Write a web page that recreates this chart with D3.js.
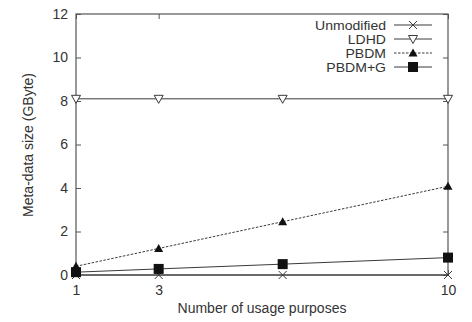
<!DOCTYPE html>
<html><head><meta charset="utf-8">
<script src="https://cdn.jsdelivr.net/npm/d3@7"></script>
<style>
body{margin:0;background:#fff;}
text{font-family:"Liberation Sans",Arial,Helvetica,sans-serif;fill:#333;}
</style></head>
<body><svg id="c" width="472" height="322"></svg>
<script>
const xValues = [1, 3, 6, 10];
const xTicks = [1, 3, 10];
const yTicks = [0, 2, 4, 6, 8, 10, 12];
const unmodified = [0, 0, 0, 0];
const ldhd = [8.1, 8.1, 8.1, 8.1];
const pbdm = [0.4, 1.22, 2.45, 4.08];
const pbdmG = [0.13, 0.28, 0.5, 0.8];
const seriesNames = ["Unmodified", "LDHD", "PBDM", "PBDM+G"];

const svg = d3.select("#c");
const L = 76, R = 448, T = 14, B = 275;
const x = d3.scaleLinear().domain([1, 10]).range([L, R]);
const y = d3.scaleLinear().domain([0, 12]).range([B, T]);
const axisColor = "#555";
const lineColor = "#3a3a3a";
const font = '"Liberation Sans",Arial,sans-serif';

svg.append("rect").attr("x", L).attr("y", T).attr("width", R - L).attr("height", B - T)
  .attr("fill", "none").attr("stroke", axisColor).attr("stroke-width", 1.2);

const yAxisL = d3.axisLeft(y).tickValues(yTicks).tickSizeInner(-5).tickSizeOuter(0).tickPadding(8);
const gy = svg.append("g").attr("transform", `translate(${L},0)`).call(yAxisL);
const yAxisR = d3.axisRight(y).tickValues(yTicks).tickSizeInner(-5).tickSizeOuter(0).tickFormat("");
const gyr = svg.append("g").attr("transform", `translate(${R},0)`).call(yAxisR);
const xAxisB = d3.axisBottom(x).tickValues(xTicks).tickSizeInner(-5).tickSizeOuter(0).tickPadding(10);
const gx = svg.append("g").attr("transform", `translate(0,${B})`).call(xAxisB);
const xAxisT = d3.axisTop(x).tickValues(xTicks).tickSizeInner(-5).tickSizeOuter(0).tickFormat("");
const gxt = svg.append("g").attr("transform", `translate(0,${T})`).call(xAxisT);
[gy, gyr, gx, gxt].forEach(g => {
  g.select(".domain").remove();
  g.selectAll("line").attr("stroke", axisColor);
  g.selectAll("text").attr("font-size", 14).attr("fill", "#333").style("font-family", font);
});

svg.append("text").attr("x", 262).attr("y", 313).attr("text-anchor", "middle").attr("font-size", 14).text("Number of usage purposes");
svg.append("text").attr("transform", "translate(33,145) rotate(-90)").attr("text-anchor", "middle").attr("font-size", 14).text("Meta-data size (GByte)");

const data = [unmodified, ldhd, pbdm, pbdmG];
const dashes = [null, null, "2.5,1.5", null];
const line = d3.line().x((d, i) => x(xValues[i])).y(d => y(d));

function marker(g, type, cx, cy) {
  if (type === 0) {
    const s = 4;
    g.append("path").attr("d", `M${cx-s},${cy-s}L${cx+s},${cy+s}M${cx-s},${cy+s}L${cx+s},${cy-s}`)
      .attr("stroke", lineColor).attr("stroke-width", 1).attr("fill", "none");
  } else if (type === 1) {
    const s = 4.5;
    g.append("path").attr("d", `M${cx-s},${cy-s+1}L${cx+s},${cy-s+1}L${cx},${cy+s}Z`)
      .attr("stroke", lineColor).attr("stroke-width", 1).attr("fill", "#fff");
  } else if (type === 2) {
    const s = 4.5;
    g.append("path").attr("d", `M${cx-s},${cy+s-1}L${cx+s},${cy+s-1}L${cx},${cy-s}Z`)
      .attr("fill", "#111");
  } else {
    const s = 5;
    g.append("rect").attr("x", cx - s).attr("y", cy - s).attr("width", 2 * s).attr("height", 2 * s).attr("fill", "#111");
  }
}

data.forEach((vals, k) => {
  const g = svg.append("g");
  g.append("path").datum(vals).attr("d", line).attr("fill", "none")
    .attr("stroke", lineColor).attr("stroke-width", 1)
    .attr("stroke-dasharray", dashes[k]);
  vals.forEach((v, i) => marker(g, k, x(xValues[i]), y(v)));
});

const legY = [25, 39, 53, 67];
seriesNames.forEach((name, k) => {
  const g = svg.append("g");
  g.append("text").attr("transform", `translate(386,${legY[k] + 4.5}) scale(1.17,1)`)
    .attr("text-anchor", "end").attr("font-size", 12).text(name);
  g.append("line").attr("x1", 394).attr("x2", 432).attr("y1", legY[k]).attr("y2", legY[k])
    .attr("stroke", lineColor).attr("stroke-width", 1).attr("stroke-dasharray", dashes[k]);
  marker(g, k, 413, legY[k]);
});
</script></body></html>
